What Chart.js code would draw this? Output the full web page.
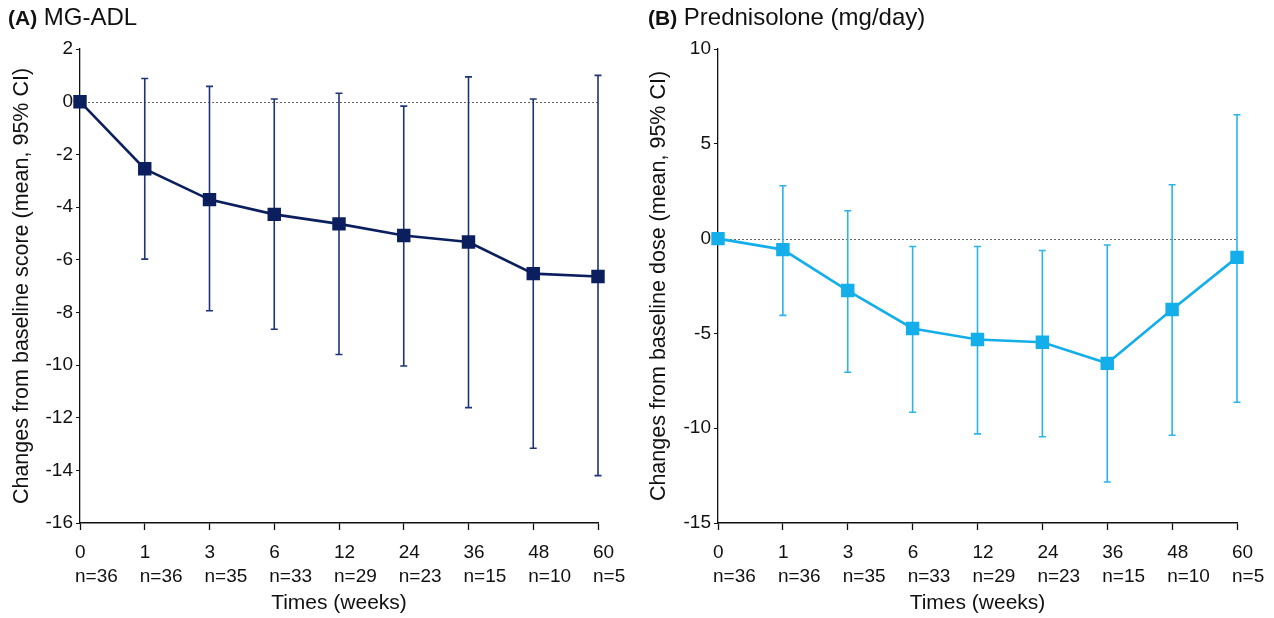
<!DOCTYPE html>
<html>
<head>
<meta charset="utf-8">
<script src="https://cdn.jsdelivr.net/npm/chart.js@4"></script>
<style>
  body { margin: 0; background: #fff; font-family: "Liberation Sans", Arial, sans-serif; }
  #wrap { position: relative; width: 1274px; height: 618px; overflow: hidden; }
  .painel { position: absolute; top: 0; width: 670px; height: 618px; }
  .titulo { position: absolute; top: 3px; color: #111; font-size: 24px; white-space: nowrap; }
  .titulo b { font-size: 21px; }
</style>
</head>
<body>
<div id="wrap">
  <div class="painel" style="left:0">
    <canvas id="graficoA" width="670" height="618"></canvas>
    <div class="titulo" style="left:8px"><b>(A)</b> MG-ADL</div>
  </div>
  <div class="painel" style="left:637px">
    <canvas id="graficoB" width="670" height="618"></canvas>
    <div class="titulo" style="left:11px"><b>(B)</b> Prednisolone (mg/day)</div>
  </div>
</div>
<script>
// semanas e n de pacientes
const semanas = ["0", "1", "3", "6", "12", "24", "36", "48", "60"];
const nPacientes = [36, 36, 35, 33, 29, 23, 15, 10, 5];

// (A) MG-ADL - media e IC 95%
const mgMedia = [0, -2.55, -3.72, -4.28, -4.64, -5.08, -5.33, -6.53, -6.64];
const mgInferior = [null, -5.98, -7.94, -8.64, -9.6, -10.04, -11.62, -13.16, -14.2];
const mgSuperior = [null, 0.88, 0.58, 0.1, 0.32, -0.17, 0.94, 0.1, 1.0];

// (B) Prednisolona - media e IC 95%
const predMedia = [0, -0.58, -2.74, -4.74, -5.32, -5.47, -6.58, -3.74, -0.99];
const predInferior = [null, -4.05, -7.05, -9.16, -10.3, -10.45, -12.84, -10.37, -8.63];
const predSuperior = [null, 2.79, 1.47, -0.42, -0.42, -0.63, -0.34, 2.84, 6.53];

const rotulos = semanas.map((s, i) => [s, "n=" + nPacientes[i]]);

// barras de erro + linha tracejada no zero
const barrasErro = {
  id: "barrasErro",
  beforeDatasetsDraw(chart) {
    const ctx = chart.ctx;
    const x = chart.scales.x;
    const y = chart.scales.y;
    const area = chart.chartArea;
    const cfg = chart.options.plugins.barrasErro;

    ctx.save();
    ctx.strokeStyle = "#666";
    ctx.lineWidth = 1;
    ctx.setLineDash([2, 2]);
    ctx.beginPath();
    const y0 = Math.round(y.getPixelForValue(0)) + 0.5;
    ctx.moveTo(area.left, y0);
    ctx.lineTo(area.right, y0);
    ctx.stroke();
    ctx.setLineDash([]);

    ctx.strokeStyle = cfg.cor;
    ctx.lineWidth = 1.6;
    for (let i = 0; i < cfg.inferior.length; i++) {
      if (cfg.inferior[i] === null) continue;
      const px = x.getPixelForValue(i);
      const pInf = y.getPixelForValue(cfg.inferior[i]);
      const pSup = y.getPixelForValue(cfg.superior[i]);
      ctx.beginPath();
      ctx.moveTo(px, pSup);
      ctx.lineTo(px, pInf);
      ctx.moveTo(px - 3.5, pSup);
      ctx.lineTo(px + 3.5, pSup);
      ctx.moveTo(px - 3.5, pInf);
      ctx.lineTo(px + 3.5, pInf);
      ctx.stroke();
    }
    ctx.restore();
  }
};

function grafico(id, dados, inf, sup, cor, corBarra, yMin, yMax, passo, tituloY, padDir, larguraY) {
  const ctx = document.getElementById(id).getContext("2d");
  return new Chart(ctx, {
    type: "line",
    data: {
      labels: rotulos,
      datasets: [{
        data: dados,
        borderColor: cor,
        backgroundColor: cor,
        borderWidth: 2.6,
        pointStyle: "rect",
        pointRadius: 9.5,
        pointBorderWidth: 0,
        tension: 0
      }]
    },
    plugins: [barrasErro],
    options: {
      responsive: false,
      animation: false,
      devicePixelRatio: 1,
      layout: { padding: { top: 49, right: padDir, left: 0, bottom: 0 } },
      plugins: {
        legend: { display: false },
        tooltip: { enabled: false },
        barrasErro: { inferior: inf, superior: sup, cor: corBarra }
      },
      scales: {
        x: {
          offset: false,
          afterFit(s) { s.height = 95; },
          grid: { drawOnChartArea: false, drawTicks: true, tickLength: 7, tickColor: "#111", tickWidth: 1.3 },
          border: { color: "#111", width: 1.5 },
          ticks: {
            color: "#111", padding: 11, maxRotation: 0, autoSkip: false,
            align: "start", labelOffset: -5,
            font: { family: "Liberation Sans", size: 19, lineHeight: 1.26 }
          },
          title: {
            display: true, text: "Times (weeks)", color: "#111",
            font: { family: "Liberation Sans", size: 21 }, padding: { top: 0, bottom: 2 }
          }
        },
        y: {
          min: yMin, max: yMax,
          afterFit(s) { s.width = larguraY; },
          grid: { drawOnChartArea: false, drawTicks: true, tickLength: 4, tickColor: "#111" },
          border: { color: "#111", width: 1.3 },
          ticks: {
            stepSize: passo, color: "#111", padding: 3,
            font: { family: "Liberation Sans", size: 19 }
          },
          title: {
            display: true, text: tituloY, color: "#111",
            font: { family: "Liberation Sans", size: 21.5 }, padding: { top: 9, bottom: 0 }
          }
        }
      }
    }
  });
}

// area do grafico: A de x=80 a 598, B de x=718 a 1237
grafico("graficoA", mgMedia, mgInferior, mgSuperior, "#0b1f5e", "#1e3478",
  -16, 2, 2, "Changes from baseline score (mean, 95% CI)", 72, 80);
grafico("graficoB", predMedia, predInferior, predSuperior, "#14aeea", "#2ab4ea",
  -15, 10, 5, "Changes from baseline dose (mean, 95% CI)", 70, 81);
</script>
</body>
</html>
